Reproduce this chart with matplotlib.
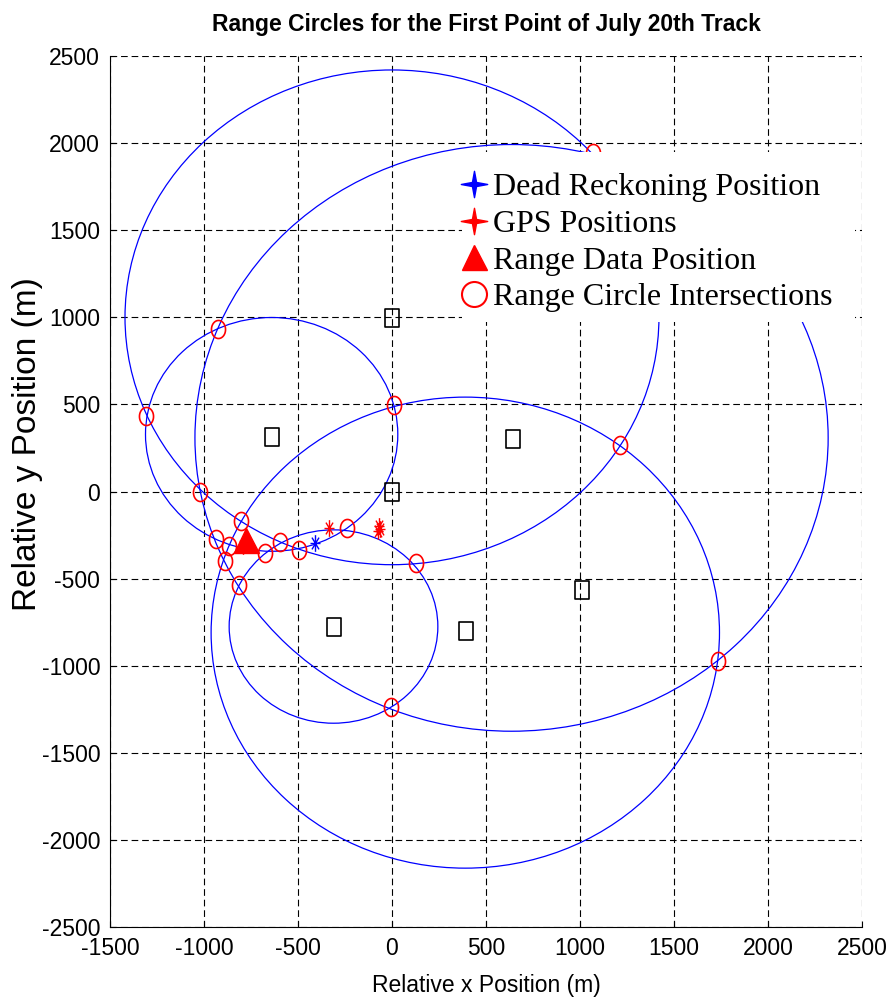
import numpy as np
import matplotlib.pyplot as plt
from matplotlib.patches import Circle, Rectangle
from matplotlib.path import Path
from matplotlib.lines import Line2D

plt.rcParams['axes.unicode_minus'] = False

# transponder positions (m)
beacon_x = [0, -638, 0, 643, 1012, -311, 393]
beacon_y = [995, 315, 0, 303, -565, -778, -803]

# range circles: centre (m) and radius (m)
circle_x = [0, 636, 390, -311, -640]
circle_y = [1000, 308, -810, -775, 328]
circle_r = [1420, 1684, 1352, 555, 671]

# range circle intersections (m)
isect_x = [1067, -928, -1307, 9, 1214, -1019, -801, -937, -865, -890,
           -678, -596, -493, -240, 128, -816, -4, 1734]
isect_y = [1942, 933, 431, 494, 266, 0, -169, -271, -311, -401,
           -353, -287, -334, -210, -410, -534, -1239, -970]

# GPS and dead reckoning positions (m)
gps_x = [-793, -337, -70, -66, -73]
gps_y = [-315, -210, -200, -214, -228]
dr_x = [-408]
dr_y = [-296]

# position from range data (m)
range_x = [-775]
range_y = [-277]

x_ticks = [-1500, -1000, -500, 0, 500, 1000, 1500, 2000, 2500]
y_ticks = [-2500, -2000, -1500, -1000, -500, 0, 500, 1000, 1500, 2000, 2500]

# custom marker shapes (a bit taller than wide, like the original)
t = np.linspace(0, 2 * np.pi, 61)
ellipse = Path(np.column_stack([0.78 * np.cos(t), np.sin(t)]), closed=True)
box = Path([(-0.83, -1), (0.83, -1), (0.83, 1), (-0.83, 1), (-0.83, -1)], closed=True)
ast_verts, ast_codes = [], []
for a in [0, 45, 90, 135]:
    dx, dy = 0.6 * np.cos(np.radians(a)), np.sin(np.radians(a))
    ast_verts += [(-dx, -dy), (dx, dy)]
    ast_codes += [Path.MOVETO, Path.LINETO]
asterisk = Path(ast_verts, ast_codes)
sv = []
for k in range(4):
    a = np.radians(90 * k)
    sv.append((np.cos(a), np.sin(a)))
    sv.append((0.22 * np.cos(a + np.pi / 4), 0.22 * np.sin(a + np.pi / 4)))
sv.append(sv[0])
star4 = Path(sv, closed=True)

sans = ['Liberation Sans Narrow', 'Liberation Sans']

fig = plt.figure(figsize=(8.94, 10.06), dpi=100)
ax = fig.add_axes([0.123, 0.0785, 0.8412, 0.8658])

for cx, cy, r in zip(circle_x, circle_y, circle_r):
    ax.add_patch(Circle((cx, cy), r, fill=False, edgecolor='blue', linewidth=0.9))

ax.plot(beacon_x, beacon_y, linestyle='none', marker=box, markersize=13,
        markerfacecolor='none', markeredgecolor='black', markeredgewidth=1.2)
ax.plot(gps_x, gps_y, linestyle='none', marker=asterisk, markersize=12,
        markeredgecolor='red', markeredgewidth=1.0)
ax.plot(dr_x, dr_y, linestyle='none', marker=asterisk, markersize=12,
        markeredgecolor='blue', markeredgewidth=1.0)
ax.plot(range_x, range_y, linestyle='none', marker='^', markersize=18,
        color='red')
ax.plot(isect_x, isect_y, linestyle='none', marker=ellipse, markersize=13,
        markerfacecolor='none', markeredgecolor='red', markeredgewidth=1.2)

ax.set_xlim(-1500, 2500)
ax.set_ylim(-2500, 2500)
ax.set_xticks(x_ticks)
ax.set_yticks(y_ticks)
ax.grid(True, color='black', linestyle=(0, (6, 3.5)), linewidth=0.8)
ax.set_axisbelow(True)
ax.spines['top'].set_visible(False)
ax.spines['right'].set_visible(False)
ax.tick_params(direction='in', length=4, top=False, right=False,
               labelsize=16.5, pad=7)
for lab in ax.get_xticklabels() + ax.get_yticklabels():
    lab.set_family(sans)

ax.set_title('Range Circles for the First Point of July 20th Track',
             family=sans, fontweight='bold', fontsize=16.5, pad=18)
ax.set_xlabel('Relative x Position (m)', fontsize=16.5, family=sans)
ax.set_ylabel('Relative y Position (m)', fontsize=24, family=sans)
ax.xaxis.set_label_coords(0.5, -0.0545)
ax.yaxis.set_label_coords(-0.089, 0.555)

# white legend box without border, hiding the circles behind it
ax.add_patch(Rectangle((0.468, 0.6946), 0.5227, 0.1952, transform=ax.transAxes,
                       facecolor='white', edgecolor='none', zorder=4))

handles = [
    Line2D([], [], linestyle='none', marker=star4, markersize=19, color='blue'),
    Line2D([], [], linestyle='none', marker=star4, markersize=19, color='red'),
    Line2D([], [], linestyle='none', marker='^', markersize=18, color='red'),
    Line2D([], [], linestyle='none', marker='o', markersize=18,
           markerfacecolor='none', markeredgecolor='red', markeredgewidth=1.5),
]
labels = ['Dead Reckoning Position', 'GPS Positions',
          'Range Data Position', 'Range Circle Intersections']
leg = ax.legend(handles, labels, loc='upper left', bbox_to_anchor=(0.4649, 0.8661),
                prop={'family': 'Liberation Serif', 'size': 23},
                frameon=False, handlelength=0.9, handletextpad=0.15,
                labelspacing=0.23, borderpad=0, borderaxespad=0)
leg.set_zorder(5)

fig.savefig('out.png', dpi=100)
